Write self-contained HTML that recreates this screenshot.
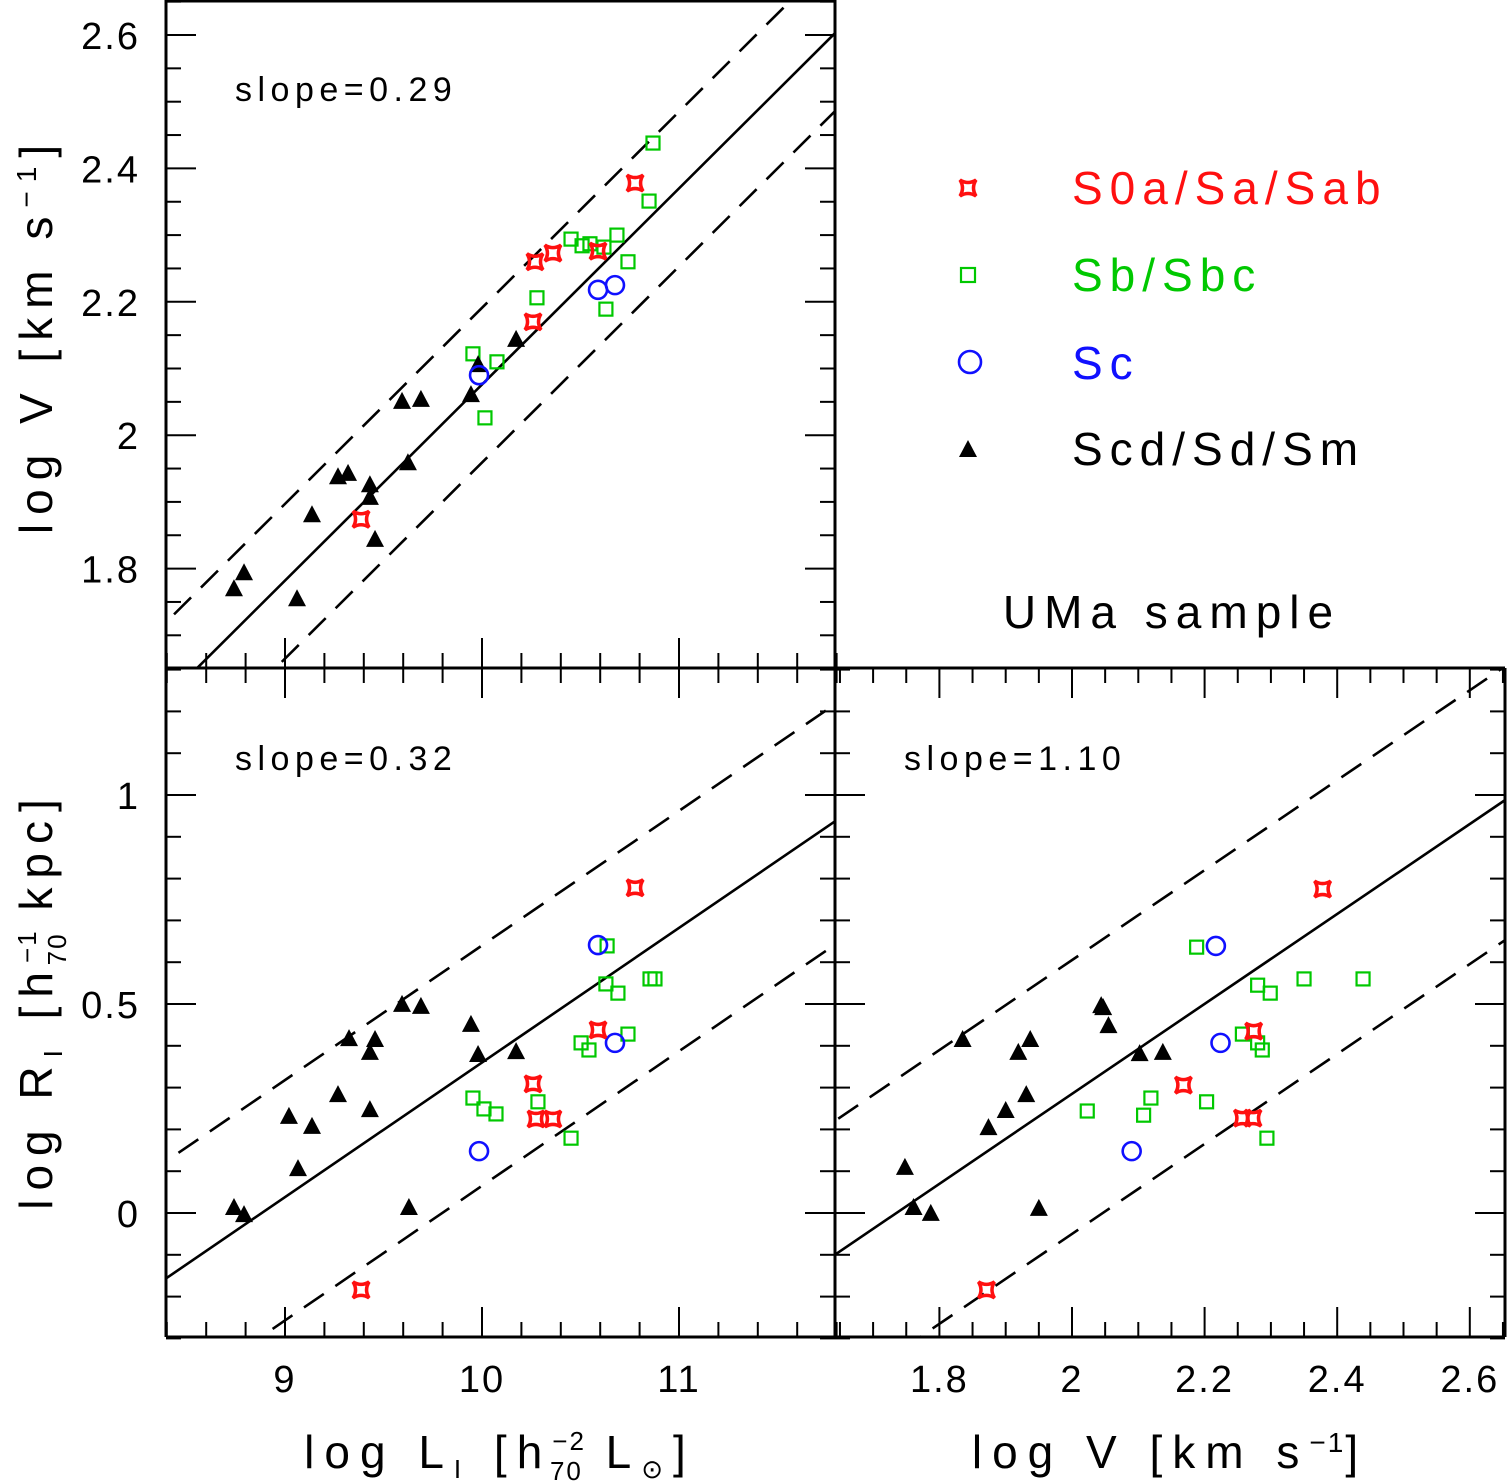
<!DOCTYPE html>
<html><head><meta charset="utf-8"><style>
html,body{margin:0;padding:0;background:#fff;}
svg{display:block;font-family:"Liberation Sans","DejaVu Sans",sans-serif;}
</style></head><body>
<svg id="chart" width="1507" height="1484" viewBox="0 0 1507 1484" xmlns="http://www.w3.org/2000/svg">
</svg>
<script>
// ---- data (top panel: logL vs logV) ----
const aRedL=[9.386,10.259,10.269,10.360,10.589,10.777];
const aRedV=[1.874,2.170,2.260,2.273,2.276,2.378];
const aGreenL=[9.954,10.076,10.015,10.279,10.452,10.508,10.548,10.619,10.685,10.741,10.629,10.848,10.868];
const aGreenV=[2.122,2.110,2.026,2.206,2.294,2.284,2.287,2.282,2.300,2.260,2.189,2.351,2.438];
const aBlueL=[9.985,10.589,10.675];
const aBlueV=[2.090,2.218,2.225];
const aBlackL=[8.741,8.792,9.061,9.137,9.269,9.320,9.431,9.431,9.457,9.594,9.690,9.624,9.944,9.980,10.173];
const aBlackV=[1.769,1.793,1.754,1.880,1.937,1.942,1.925,1.906,1.843,2.050,2.053,1.958,2.060,2.105,2.143];
// ---- bottom-left: logL vs logR ----
const bRedL=[9.386,10.259,10.274,10.360,10.589,10.777];
const bRedR=[-0.184,0.309,0.225,0.225,0.438,0.778];
const bGreenL=[9.954,10.010,10.071,10.284,10.452,10.503,10.543,10.635,10.629,10.690,10.741,10.853,10.878];
const bGreenR=[0.275,0.249,0.237,0.266,0.179,0.407,0.390,0.639,0.548,0.526,0.428,0.560,0.560];
const bBlueL=[9.985,10.589,10.675];
const bBlueR=[0.148,0.641,0.407];
const bBlackL=[8.741,8.792,9.066,9.137,9.020,9.269,9.325,9.431,9.457,9.431,9.594,9.690,9.629,9.944,9.980,10.173];
const bBlackR=[0.012,-0.005,0.105,0.206,0.230,0.282,0.416,0.383,0.414,0.246,0.498,0.493,0.012,0.450,0.378,0.385];
// ---- bottom-right: logV vs logR ----
const cRedV=[1.871,2.168,2.257,2.273,2.274,2.378];
const cRedR=[-0.184,0.306,0.227,0.227,0.435,0.775];
const cGreenV=[2.188,2.023,2.119,2.108,2.203,2.257,2.280,2.287,2.280,2.299,2.294,2.350,2.439];
const cGreenR=[0.636,0.244,0.275,0.234,0.266,0.428,0.407,0.390,0.545,0.526,0.179,0.560,0.560];
const cBlueV=[2.090,2.217,2.224];
const cBlueR=[0.148,0.639,0.407];
const cBlackV=[1.748,1.761,1.787,1.835,1.874,1.900,1.919,1.937,1.931,1.950,2.044,2.047,2.055,2.102,2.137];
const cBlackR=[0.108,0.012,-0.002,0.414,0.203,0.244,0.383,0.414,0.282,0.010,0.495,0.490,0.447,0.380,0.383];
// fits: [slope, intercept, upper offset, lower offset]
const fitA=[0.294,-0.864,0.115,-0.117];
const fitB=[0.322,-2.860,0.28,-0.295];
const fitC=[1.076,-1.867,0.32,-0.335];
const xTicksL=[9,10,11];
const xTicksV=[1.8,2,2.2,2.4,2.6];
const yTicksV=[1.8,2,2.2,2.4,2.6];
const yTicksR=[0,0.5,1];

const NS="http://www.w3.org/2000/svg";
const svg=document.getElementById('chart');
function el(tag,attrs,parent){const e=document.createElementNS(NS,tag);for(const k in attrs)e.setAttribute(k,attrs[k]);(parent||svg).appendChild(e);return e;}

const RED="#ff1010",GREEN="#00c800",BLUE="#1010ff";
const xL=v=>285+(v-9)*197;
const yV=v=>35+(2.6-v)*667;
const yR=v=>1213-v*418;
const xV=v=>1072+(v-2)*663;

function panel(name,x0,y0,x1,y1){
  const g=el('g',{});
  
  
  const c='clip-'+name;
  const cp=el('clipPath',{id:c},g);el('rect',{x:x0,y:y0,width:x1-x0,height:y1-y0},cp);
  const inner=el('g',{'clip-path':'url(#'+c+')'},g);
  return {g,inner};
}
function frameLine(g,x1,y1,x2,y2,name){const l=el('line',{x1,y1,x2,y2,stroke:'#000','stroke-width':3},g);}
function ticksX(g,sx,from,to,step,majorEvery,yEdge,dir,len1,len2){
  const n=Math.round((to-from)/step);
  for(let i=0;i<=n;i++){const v=from+i*step;const isMaj=Math.abs(v/majorEvery-Math.round(v/majorEvery))<1e-6;const x=sx(v);
    el('line',{x1:x,y1:yEdge,x2:x,y2:yEdge+dir*(isMaj?len1:len2),stroke:'#000','stroke-width':2},g);}
}
function ticksY(g,sy,from,to,step,majorEvery,xEdge,dir,len1,len2){
  const n=Math.round((to-from)/step);
  for(let i=0;i<=n;i++){const v=from+i*step;const isMaj=Math.abs(v/majorEvery-Math.round(v/majorEvery))<1e-6;const y=sy(v);
    el('line',{x1:xEdge,y1:y,x2:xEdge+dir*(isMaj?len1:len2),y2:y,stroke:'#000','stroke-width':2},g);}
}
function star(g,x,y){const s=8,k=3;
  const d=`M${x-s},${y-s} Q${x},${y-k} ${x+s},${y-s} Q${x+k},${y} ${x+s},${y+s} Q${x},${y+k} ${x-s},${y+s} Q${x-k},${y} ${x-s},${y-s} Z`;
  return el('path',{d,fill:'none',stroke:RED,'stroke-width':3.5},g);}
function square(g,x,y){return el('rect',{x:x-6.5,y:y-6.5,width:13,height:13,fill:'none',stroke:GREEN,'stroke-width':2.2},g);}
function circ(g,x,y){return el('circle',{cx:x,cy:y,r:9,fill:'none',stroke:BLUE,'stroke-width':2.6},g);}
function tri(g,x,y){return el('path',{d:`M${x},${y-10} L${x+9},${y+7} L${x-9},${y+7} Z`,fill:'#000'},g);}
function scatter(g,xs,ys,sx,sy,fn,name){
  for(let i=0;i<xs.length;i++){const m=fn(g,sx(xs[i]),sy(ys[i]));
    
    }
}
function fitLines(g,fit,sx,sy,xmin,xmax){
  const [m,b,up,lo]=fit;
  const mk=(off,dash,name)=>{const l=el('line',{x1:sx(xmin),y1:sy(m*xmin+b+off),x2:sx(xmax),y2:sy(m*xmax+b+off),stroke:'#000','stroke-width':2.6},g);
    if(dash)l.setAttribute('stroke-dasharray','24 14');
    
    };
  mk(0,false,'fit-line');mk(up,true,'upper-scatter-line');mk(lo,true,'lower-scatter-line');
}
function text(g,x,y,str,size,anchor,name,ls){const t=el('text',{x,y,'font-size':size,'text-anchor':anchor||'start','letter-spacing':ls||0},g);t.textContent=str;return t;}

const A=panel('panel-tf-velocity',166,0,835,668);
fitLines(A.inner,fitA,xL,yV,8.3,11.9);
scatter(A.inner,aGreenL,aGreenV,xL,yV,square,'point-sb-sbc');
scatter(A.inner,aBlackL,aBlackV,xL,yV,tri,'point-scd-sd-sm');
scatter(A.inner,aBlueL,aBlueV,xL,yV,circ,'point-sc');
scatter(A.inner,aRedL,aRedV,xL,yV,star,'point-s0a-sa-sab');
ticksY(A.g,yV,1.65,2.65,0.05,0.2,166,1,30,15);
ticksY(A.g,yV,1.65,2.65,0.05,0.2,835,-1,30,15);
ticksX(A.g,xL,8.4,11.8,0.2,1,668,-1,30,15);
frameLine(A.g,166,0,166,668,'left-axis');frameLine(A.g,835,0,835,668,'right-axis');frameLine(A.g,166,1,835,1,'top-axis');
text(A.g,235,101,'slope=0.29',34,'start','slope-label-tf',5.5);

const B=panel('panel-size-luminosity',166,668,835,1337);
fitLines(B.inner,fitB,xL,yR,8.3,11.9);
scatter(B.inner,bGreenL,bGreenR,xL,yR,square,'point-sb-sbc');
scatter(B.inner,bBlackL,bBlackR,xL,yR,tri,'point-scd-sd-sm');
scatter(B.inner,bBlueL,bBlueR,xL,yR,circ,'point-sc');
scatter(B.inner,bRedL,bRedR,xL,yR,star,'point-s0a-sa-sab');
ticksY(B.g,yR,-0.3,1.3,0.1,0.5,166,1,30,15);
ticksY(B.g,yR,-0.3,1.3,0.1,0.5,835,-1,30,15);
ticksX(B.g,xL,8.4,11.8,0.2,1,668,1,30,15);
ticksX(B.g,xL,8.4,11.8,0.2,1,1337,-1,30,15);
frameLine(B.g,166,668,166,1337,'left-axis');frameLine(B.g,166,1337,835,1337,'bottom-axis');frameLine(B.g,166,668,835,668,'top-axis');
text(B.g,235,770,'slope=0.32',34,'start','slope-label-rl',5.5);

const C=panel('panel-size-velocity',835,668,1505,1337);
fitLines(C.inner,fitC,xV,yR,1.6,2.7);
scatter(C.inner,cGreenV,cGreenR,xV,yR,square,'point-sb-sbc');
scatter(C.inner,cBlackV,cBlackR,xV,yR,tri,'point-scd-sd-sm');
scatter(C.inner,cBlueV,cBlueR,xV,yR,circ,'point-sc');
scatter(C.inner,cRedV,cRedR,xV,yR,star,'point-s0a-sa-sab');
ticksY(C.g,yR,-0.3,1.3,0.1,0.5,835,1,30,15);
ticksY(C.g,yR,-0.3,1.3,0.1,0.5,1505,-1,30,15);
ticksX(C.g,xV,1.65,2.65,0.05,0.2,668,1,30,15);
ticksX(C.g,xV,1.65,2.65,0.05,0.2,1337,-1,30,15);
frameLine(C.g,835,668,835,1337,'left-axis');frameLine(C.g,1505,668,1505,1337,'right-axis');frameLine(C.g,835,668,1505,668,'top-axis');frameLine(C.g,835,1337,1505,1337,'bottom-axis');
text(C.g,904,770,'slope=1.10',34,'start','slope-label-rv',5.5);

for(const v of yTicksV) text(svg,140,yV(v)+14,String(v),38,'end','y-tick-label-logv',2);
for(const v of yTicksR) text(svg,140,yR(v)+14,String(v),38,'end','y-tick-label-logr',2);
for(const v of xTicksL) text(svg,xL(v),1392,String(v),38,'middle','x-tick-label-logl',2);
for(const v of xTicksV) text(svg,xV(v),1392,String(v),38,'middle','x-tick-label-logv',2);
</script>
<script>
(function(){
const svg=document.getElementById('chart');const NS="http://www.w3.org/2000/svg";
function add(markup){const g=document.createElementNS(NS,'g');g.innerHTML=markup;svg.appendChild(g);return g;}
add(`
<text transform="translate(52,335) rotate(-90)" font-size="46" letter-spacing="9" text-anchor="middle">log V [km s<tspan font-size="28" dy="-16">−1</tspan><tspan dy="16">]</tspan></text>
<text transform="translate(52,1000) rotate(-90)" font-size="46" letter-spacing="9" text-anchor="middle">log R<tspan font-size="26" dy="10">I</tspan><tspan dy="-10"> [h</tspan><tspan font-size="26" letter-spacing="2" dy="-16">−1</tspan><tspan font-size="26" letter-spacing="2" dx="-36" dy="30">70</tspan><tspan dy="-14"> kpc]</tspan></text>
<text x="500" y="1468" font-size="46" letter-spacing="10" text-anchor="middle">log L<tspan font-size="26" dy="10">I</tspan><tspan dy="-10"> [h</tspan><tspan font-size="26" letter-spacing="2" dy="-18">−2</tspan><tspan font-size="26" letter-spacing="2" dx="-36" dy="30">70</tspan><tspan dy="-12"> L</tspan><tspan font-size="26" dy="10">⊙</tspan><tspan dy="-10">]</tspan></text>
<text x="1170" y="1468" font-size="46" letter-spacing="10" text-anchor="middle">log V [km s<tspan font-size="28" letter-spacing="2" dy="-16">−1</tspan><tspan dy="16">]</tspan></text>
<g>
<path d="M960,180 Q968,185 976,180 Q971,188 976,196 Q968,191 960,196 Q965,188 960,180 Z" fill="none" stroke="#ff1010" stroke-width="3.5"/>
<text x="1072" y="204" font-size="46" letter-spacing="7" fill="#ff1010">S0a/Sa/Sab</text>
<rect x="961" y="268" width="14" height="14" fill="none" stroke="#00c800" stroke-width="2.2"/>
<text x="1072" y="291" font-size="46" letter-spacing="7" fill="#00c800">Sb/Sbc</text>
<circle cx="970" cy="362" r="11" fill="none" stroke="#1010ff" stroke-width="2.6"/>
<text x="1072" y="379" font-size="46" letter-spacing="7" fill="#1010ff">Sc</text>
<path d="M968,440 L977,457 L959,457 Z" fill="#000"/>
<text x="1072" y="465" font-size="46" letter-spacing="7">Scd/Sd/Sm</text>
</g>
<text x="1172" y="628" font-size="46" letter-spacing="8" text-anchor="middle">UMa sample</text>
`);
})();
</script>
</body></html>
